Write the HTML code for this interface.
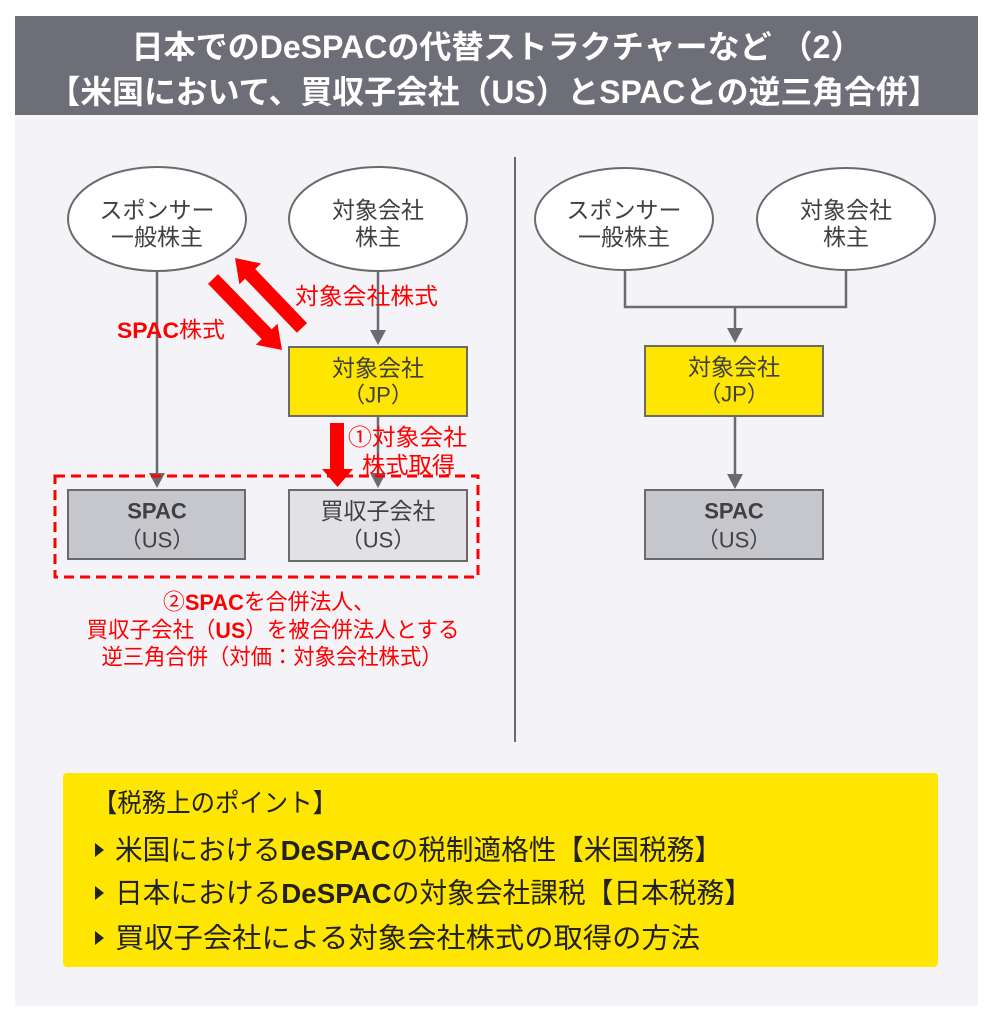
<!DOCTYPE html>
<html>
<head>
<meta charset="utf-8">
<style>
html,body{margin:0;padding:0;background:#ffffff;}
svg{display:block;}
text{font-family:"Liberation Sans","Noto Sans CJK JP",sans-serif;}
</style>
</head>
<body>
<svg width="1000" height="1025" viewBox="0 0 1000 1025" xmlns="http://www.w3.org/2000/svg">
  <!-- panel -->
  <rect x="15" y="16" width="963" height="990" fill="#f4f4f8"/>
  <!-- header -->
  <rect x="15" y="16" width="963" height="99" fill="#6e6e78"/>
  <text x="497" y="47" fill="#ffffff" font-size="32" font-weight="bold" text-anchor="middle" dominant-baseline="central" textLength="731" lengthAdjust="spacingAndGlyphs">日本でのDeSPACの代替ストラクチャーなど （2）</text>
  <text x="494" y="92" fill="#ffffff" font-size="32" font-weight="bold" text-anchor="middle" dominant-baseline="central" textLength="891" lengthAdjust="spacingAndGlyphs">【米国において、買収子会社（US）とSPACとの逆三角合併】</text>

  <!-- divider -->
  <line x1="515" y1="157" x2="515" y2="742" stroke="#6a6a72" stroke-width="2"/>

  <!-- ===== LEFT DIAGRAM ===== -->
  <!-- connectors -->
  <line x1="157" y1="271" x2="157" y2="475" stroke="#6a6a72" stroke-width="2.5"/>
  <polygon points="149,473 165,473 157,488" fill="#6a6a72"/>
  <line x1="378" y1="271" x2="378" y2="332" stroke="#6a6a72" stroke-width="2.5"/>
  <polygon points="370,330 386,330 378,345" fill="#6a6a72"/>
  <line x1="378" y1="416" x2="378" y2="475" stroke="#6a6a72" stroke-width="2.5"/>
  <polygon points="370,473 386,473 378,488" fill="#6a6a72"/>

  <!-- ellipses -->
  <ellipse cx="157" cy="219" rx="89" ry="52" fill="#ffffff" stroke="#6a6a6a" stroke-width="2"/>
  <text x="157" y="210" font-size="23" fill="#404040" text-anchor="middle" dominant-baseline="central">スポンサー</text>
  <text x="157" y="237" font-size="23" fill="#404040" text-anchor="middle" dominant-baseline="central">一般株主</text>
  <ellipse cx="378" cy="219" rx="89" ry="52" fill="#ffffff" stroke="#6a6a6a" stroke-width="2"/>
  <text x="378" y="210" font-size="23" fill="#404040" text-anchor="middle" dominant-baseline="central">対象会社</text>
  <text x="378" y="237" font-size="23" fill="#404040" text-anchor="middle" dominant-baseline="central">株主</text>

  <!-- yellow box JP -->
  <rect x="289" y="347" width="178" height="69" fill="#ffe600" stroke="#6a6a6a" stroke-width="2"/>
  <text x="378" y="368" font-size="23" fill="#404040" text-anchor="middle" dominant-baseline="central">対象会社</text>
  <text x="378" y="395" font-size="22" fill="#404040" text-anchor="middle" dominant-baseline="central">（JP）</text>

  <!-- SPAC box -->
  <rect x="68" y="490" width="177" height="69" fill="#c6c6cd" stroke="#6a6a6a" stroke-width="2"/>
  <text x="157" y="511" font-size="22" font-weight="bold" fill="#404040" text-anchor="middle" dominant-baseline="central">SPAC</text>
  <text x="157" y="540" font-size="22" fill="#404040" text-anchor="middle" dominant-baseline="central">（US）</text>

  <!-- acquisition sub box -->
  <rect x="289" y="490" width="178" height="71" fill="#e2e2e6" stroke="#6a6a6a" stroke-width="2"/>
  <text x="378" y="511" font-size="23" fill="#404040" text-anchor="middle" dominant-baseline="central">買収子会社</text>
  <text x="378" y="540" font-size="22" fill="#404040" text-anchor="middle" dominant-baseline="central">（US）</text>

  <!-- red diagonal arrows -->
  <polygon points="307.05,323.16 255.25,269.06 261.0,263.5 235,258 239.4,284.3 245.1,278.7 296.9,332.8" fill="#ff0000"/>
  <polygon points="218.0,274.1 271.7,329.3 277.5,323.7 282,350 255.9,344.7 261.7,339.1 208.0,283.9" fill="#ff0000"/>
  <text x="295" y="296" font-size="23" fill="#ff0000" dominant-baseline="central" textLength="143" lengthAdjust="spacingAndGlyphs">対象会社株式</text>
  <text x="117" y="330" font-size="22" fill="#ff0000" dominant-baseline="central" textLength="108" lengthAdjust="spacingAndGlyphs"><tspan font-weight="bold">SPAC</tspan>株式</text>

  <!-- red down arrow -->
  <polygon points="330,423 344,423 344,469 353,469 337.5,487 322,469 330,469" fill="#ff0000"/>
  <text x="348" y="437" font-size="23" fill="#ff0000" dominant-baseline="central" textLength="119" lengthAdjust="spacingAndGlyphs">①対象会社</text>
  <text x="362" y="465" font-size="23" fill="#ff0000" dominant-baseline="central" textLength="93" lengthAdjust="spacingAndGlyphs">株式取得</text>

  <!-- dashed rectangle -->
  <rect x="55" y="476" width="423" height="101" fill="none" stroke="#ff0000" stroke-width="3" stroke-dasharray="10,6"/>

  <!-- red explanation -->
  <text x="269" y="602" font-size="22" fill="#ff0000" text-anchor="middle" dominant-baseline="central" textLength="212" lengthAdjust="spacingAndGlyphs">②<tspan font-weight="bold">SPAC</tspan>を合併法人、</text>
  <text x="273" y="630" font-size="22" fill="#ff0000" text-anchor="middle" dominant-baseline="central" textLength="373" lengthAdjust="spacingAndGlyphs">買収子会社（<tspan font-weight="bold">US</tspan>）を被合併法人とする</text>
  <text x="272" y="657" font-size="22" fill="#ff0000" text-anchor="middle" dominant-baseline="central" textLength="341" lengthAdjust="spacingAndGlyphs">逆三角合併（対価：対象会社株式）</text>

  <!-- ===== RIGHT DIAGRAM ===== -->
  <polyline points="625,270 625,307 846,307 846,270" fill="none" stroke="#6a6a72" stroke-width="2.5"/>
  <line x1="735" y1="307" x2="735" y2="330" stroke="#6a6a72" stroke-width="2.5"/>
  <polygon points="727,328 743,328 735,343" fill="#6a6a72"/>
  <line x1="735" y1="416" x2="735" y2="476" stroke="#6a6a72" stroke-width="2.5"/>
  <polygon points="727,474 743,474 735,489" fill="#6a6a72"/>

  <ellipse cx="624" cy="219" rx="89" ry="51" fill="#ffffff" stroke="#6a6a6a" stroke-width="2"/>
  <text x="624" y="210" font-size="23" fill="#404040" text-anchor="middle" dominant-baseline="central">スポンサー</text>
  <text x="624" y="237" font-size="23" fill="#404040" text-anchor="middle" dominant-baseline="central">一般株主</text>
  <ellipse cx="846" cy="219" rx="89" ry="51" fill="#ffffff" stroke="#6a6a6a" stroke-width="2"/>
  <text x="846" y="210" font-size="23" fill="#404040" text-anchor="middle" dominant-baseline="central">対象会社</text>
  <text x="846" y="237" font-size="23" fill="#404040" text-anchor="middle" dominant-baseline="central">株主</text>

  <rect x="645" y="346" width="178" height="70" fill="#ffe600" stroke="#6a6a6a" stroke-width="2"/>
  <text x="734" y="367" font-size="23" fill="#404040" text-anchor="middle" dominant-baseline="central">対象会社</text>
  <text x="734" y="394" font-size="22" fill="#404040" text-anchor="middle" dominant-baseline="central">（JP）</text>

  <rect x="645" y="490" width="178" height="69" fill="#c6c6cd" stroke="#6a6a6a" stroke-width="2"/>
  <text x="734" y="511" font-size="22" font-weight="bold" fill="#404040" text-anchor="middle" dominant-baseline="central">SPAC</text>
  <text x="734" y="540" font-size="22" fill="#404040" text-anchor="middle" dominant-baseline="central">（US）</text>

  <!-- ===== TAX POINTS BOX ===== -->
  <rect x="63" y="773" width="875" height="194" rx="4" fill="#ffe600"/>
  <text x="93" y="803" font-size="26" fill="#222222" dominant-baseline="central" textLength="244" lengthAdjust="spacingAndGlyphs">【税務上のポイント】</text>
  <polygon points="95,843 95,857 104,850" fill="#222222"/>
  <text x="115" y="850" font-size="28" fill="#222222" dominant-baseline="central" textLength="607" lengthAdjust="spacingAndGlyphs">米国における<tspan font-weight="bold">DeSPAC</tspan>の税制適格性【米国税務】</text>
  <polygon points="95,886 95,900 104,893" fill="#222222"/>
  <text x="115" y="893" font-size="28" fill="#222222" dominant-baseline="central" textLength="637" lengthAdjust="spacingAndGlyphs">日本における<tspan font-weight="bold">DeSPAC</tspan>の対象会社課税【日本税務】</text>
  <polygon points="95,931 95,945 104,938" fill="#222222"/>
  <text x="115" y="938" font-size="28" fill="#222222" dominant-baseline="central" textLength="585" lengthAdjust="spacingAndGlyphs">買収子会社による対象会社株式の取得の方法</text>
</svg>
</body>
</html>
